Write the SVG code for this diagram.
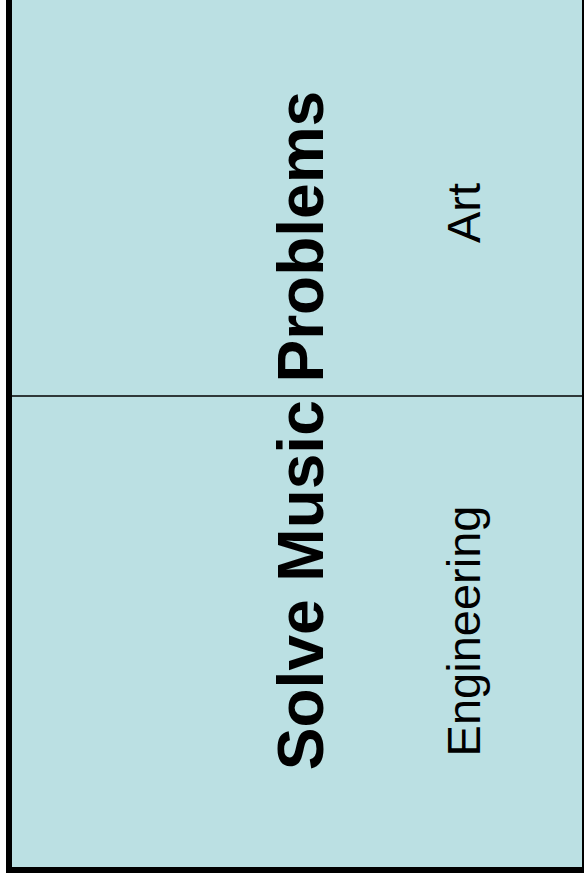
<svg xmlns="http://www.w3.org/2000/svg" width="584" height="881" viewBox="0 0 584 881">
  <style>
    .frame { fill: #bbe0e3; stroke: #000000; stroke-width: 6; }
    .divider { stroke: #000000; stroke-width: 1.5; }
    .title { font-family: "Liberation Sans", Arial, sans-serif; font-weight: bold; font-size: 64px; fill: #000000; text-anchor: middle; }
    .label { font-family: "Liberation Sans", Arial, sans-serif; font-size: 47px; fill: #000000; text-anchor: middle; }
  </style>
  <rect width="584" height="881" fill="#ffffff"/>
  <!-- outer panel, its top runs past the canvas -->
  <g id="panel">
    <rect class="frame" x="9" y="-20" width="576" height="890"/>
  </g>
  <g id="connectors">
    <line class="divider" x1="12" y1="396" x2="582" y2="396"/>
  </g>
  <g id="title">
    <text class="title" transform="translate(323,430.5) rotate(-90)">Solve Music Problems</text>
  </g>
  <g id="art">
    <text class="label" transform="translate(480,213) rotate(-90)">Art</text>
  </g>
  <g id="engineering">
    <text class="label" transform="translate(480,631) rotate(-90)">Engineering</text>
  </g>
</svg>
